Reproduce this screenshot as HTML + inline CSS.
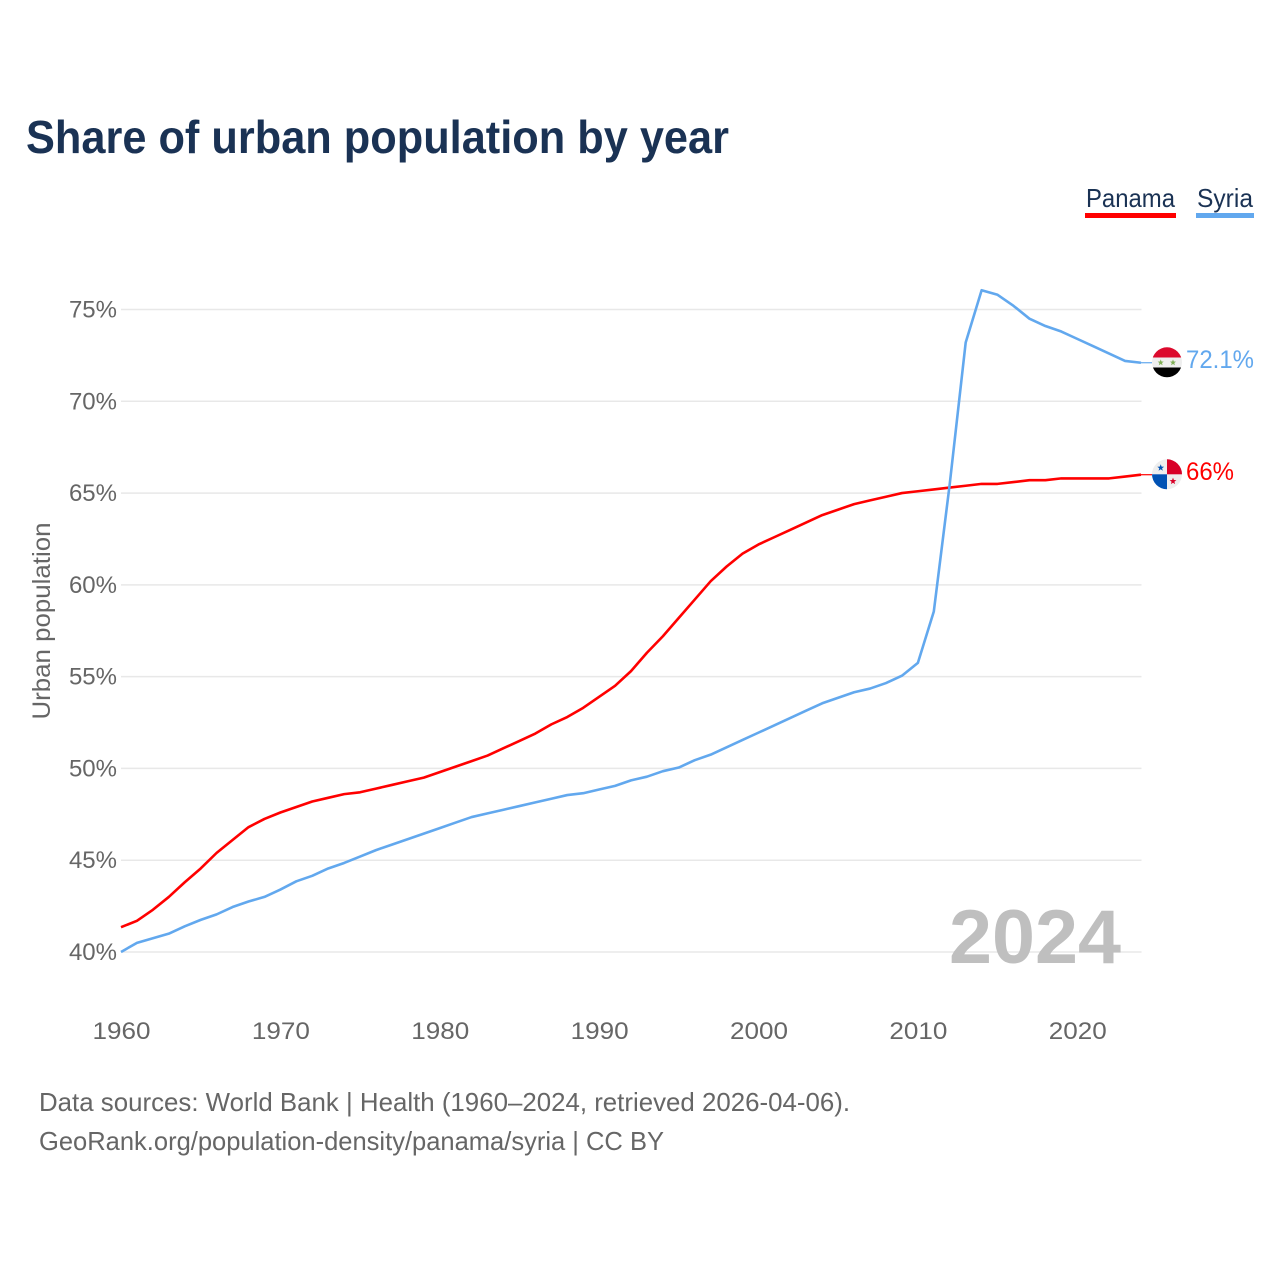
<!DOCTYPE html>
<html lang="en">
<head>
<meta charset="utf-8">
<title>Share of urban population by year</title>
<style>
html,body{margin:0;padding:0;background:#fff;width:1280px;height:1280px;overflow:hidden}
svg{display:block;font-family:"Liberation Sans",sans-serif}
</style>
</head>
<body>
<svg id="chart" width="1280" height="1280" viewBox="0 0 1280 1280" xmlns="http://www.w3.org/2000/svg">
  <defs>
    <clipPath id="flag-clip-syria"><circle cx="1167" cy="362.3" r="15"/></clipPath>
    <clipPath id="flag-clip-panama"><circle cx="1167" cy="474.3" r="15"/></clipPath>
  </defs>
  <rect width="1280" height="1280" fill="#fff"/>
  <text x="26" y="153" font-size="46" font-weight="700" fill="#1a3254" textLength="703" lengthAdjust="spacingAndGlyphs">Share of urban population by year</text>

  <g>
    <g>
      <text x="1086" y="207" font-size="26" fill="#1a3254" textLength="89" lengthAdjust="spacingAndGlyphs">Panama</text>
      <rect x="1085" y="213" width="91" height="5" fill="#ff0000"/>
    </g>
    <g>
      <text x="1197" y="207" font-size="26" fill="#1a3254" textLength="56" lengthAdjust="spacingAndGlyphs">Syria</text>
      <rect x="1196" y="213" width="58" height="5" fill="#62a8ee"/>
    </g>
  </g>

  <g id="grid"></g>
  <g id="y-axis"></g>
  <g id="x-axis"></g>
  <text transform="translate(50 621) rotate(-90)" text-anchor="middle" font-size="25" fill="#666666" textLength="197" lengthAdjust="spacingAndGlyphs">Urban population</text>

  <text x="949" y="963" font-size="76" font-weight="700" fill="#bfbfbf" textLength="172" lengthAdjust="spacingAndGlyphs">2024</text>

  <g id="series"></g>

  <g clip-path="url(#flag-clip-syria)">
    <rect x="1152" y="347" width="30" height="10.5" fill="#dc0a2d"/>
    <rect x="1152" y="357.5" width="30" height="10" fill="#eeeeee"/>
    <rect x="1152" y="367.5" width="30" height="11" fill="#000000"/>
    <polygon points="1160.7,359.4 1161.5,361.5 1163.7,361.6 1162,363 1162.6,365.2 1160.7,364 1158.8,365.2 1159.4,363 1157.7,361.6 1159.9,361.5" fill="#7fae55"/>
    <polygon points="1173,359.4 1173.8,361.5 1176,361.6 1174.3,363 1174.9,365.2 1173,364 1171.1,365.2 1171.7,363 1170,361.6 1172.2,361.5" fill="#7fae55"/>
  </g>
  <g clip-path="url(#flag-clip-panama)">
    <rect x="1152" y="459" width="30" height="31" fill="#eeeeee"/>
    <rect x="1167" y="459" width="15" height="15.3" fill="#d80027"/>
    <rect x="1152" y="474.3" width="15" height="15.3" fill="#0052b4"/>
    <polygon points="1160.7,464.2 1161.6,466.6 1164.1,466.7 1162.1,468.3 1162.8,470.7 1160.7,469.3 1158.6,470.7 1159.3,468.3 1157.3,466.7 1159.8,466.6" fill="#0052b4"/>
    <polygon points="1173,477.6 1173.9,480 1176.4,480.1 1174.4,481.7 1175.1,484.1 1173,482.7 1170.9,484.1 1171.6,481.7 1169.6,480.1 1172.1,480" fill="#d80027"/>
  </g>

  <text x="1186" y="368" font-size="25" fill="#62a8ee" textLength="68" lengthAdjust="spacingAndGlyphs">72.1%</text>
  <text x="1186" y="480" font-size="25" fill="#ff0000" textLength="48" lengthAdjust="spacingAndGlyphs">66%</text>

  <text x="39" y="1111" font-size="26" fill="#666666" textLength="811" lengthAdjust="spacingAndGlyphs">Data sources: World Bank | Health (1960–2024, retrieved 2026-04-06).</text>
  <text x="39" y="1150" font-size="26" fill="#666666" textLength="625" lengthAdjust="spacingAndGlyphs">GeoRank.org/population-density/panama/syria | CC BY</text>
</svg>
<script>
const startYear = 1960;
const yTickValues = [40, 45, 50, 55, 60, 65, 70, 75];
const xTickValues = [1960, 1970, 1980, 1990, 2000, 2010, 2020];
const panamaValues = [41.35,41.7,42.3,43.0,43.8,44.55,45.4,46.1,46.8,47.25,47.6,47.9,48.2,48.4,48.6,48.7,48.9,49.1,49.3,49.5,49.8,50.1,50.4,50.7,51.1,51.5,51.9,52.4,52.8,53.3,53.9,54.5,55.3,56.3,57.2,58.2,59.2,60.2,61.0,61.7,62.2,62.6,63.0,63.4,63.8,64.1,64.4,64.6,64.8,65.0,65.1,65.2,65.3,65.4,65.5,65.5,65.6,65.7,65.7,65.8,65.8,65.8,65.8,65.9,66.0];
const syriaValues = [40.0,40.5,40.75,41.0,41.4,41.75,42.05,42.45,42.75,43.0,43.4,43.85,44.15,44.55,44.85,45.2,45.55,45.85,46.15,46.45,46.75,47.05,47.35,47.55,47.75,47.95,48.15,48.35,48.55,48.65,48.85,49.05,49.35,49.55,49.85,50.05,50.45,50.75,51.15,51.55,51.95,52.35,52.75,53.15,53.55,53.85,54.15,54.35,54.65,55.05,55.75,58.55,65.5,73.2,76.05,75.8,75.2,74.5,74.1,73.8,73.4,73.0,72.6,72.2,72.1];

const NS = 'http://www.w3.org/2000/svg';
function xScale(year) { return 121 + (year - 1960) * (1141 - 121) / 64; }
function yScale(v) { return 952 - (v - 40) * (952 - 309.5) / 35; }
function make(tag, attrs, parent) {
  const el = document.createElementNS(NS, tag);
  for (const k in attrs) el.setAttribute(k, attrs[k]);
  parent.appendChild(el);
  return el;
}
const gridGroup = document.getElementById('grid');
const yAxisGroup = document.getElementById('y-axis');
const xAxisGroup = document.getElementById('x-axis');
const seriesGroup = document.getElementById('series');

yTickValues.forEach(function (v) {
  const line = make('line', {x1: 121, x2: 1141.5, y1: yScale(v), y2: yScale(v), stroke: '#e8e8e8', 'stroke-width': 1.5}, gridGroup);
  
  
  const label = make('text', {x: 117, y: yScale(v) + 8, 'text-anchor': 'end', 'font-size': 24, fill: '#666666'}, yAxisGroup);
  
  
  label.textContent = v + '%';
});

xTickValues.forEach(function (year) {
  const label = make('text', {x: xScale(year) + 0.5, y: 1039, 'text-anchor': 'middle', 'font-size': 24.5, fill: '#666666', textLength: 58, lengthAdjust: 'spacingAndGlyphs'}, xAxisGroup);
  
  
  label.textContent = year;
});

function drawSeries(values, color, key) {
  const pts = values.map(function (v, i) {
    return xScale(startYear + i).toFixed(2) + ',' + yScale(v).toFixed(2);
  });
  const last = values[values.length - 1];
  const leader = make('line', {x1: xScale(startYear + values.length - 1), x2: 1152, y1: yScale(last), y2: yScale(last), stroke: color, 'stroke-width': 1.2}, seriesGroup);
  
  
  const line = make('polyline', {points: pts.join(' '), fill: 'none', stroke: color, 'stroke-width': 2.6, 'stroke-linejoin': 'round'}, seriesGroup);
  
  
}
drawSeries(panamaValues, '#ff0000', 'panama');
drawSeries(syriaValues, '#62a8ee', 'syria');
</script>
</body>
</html>
